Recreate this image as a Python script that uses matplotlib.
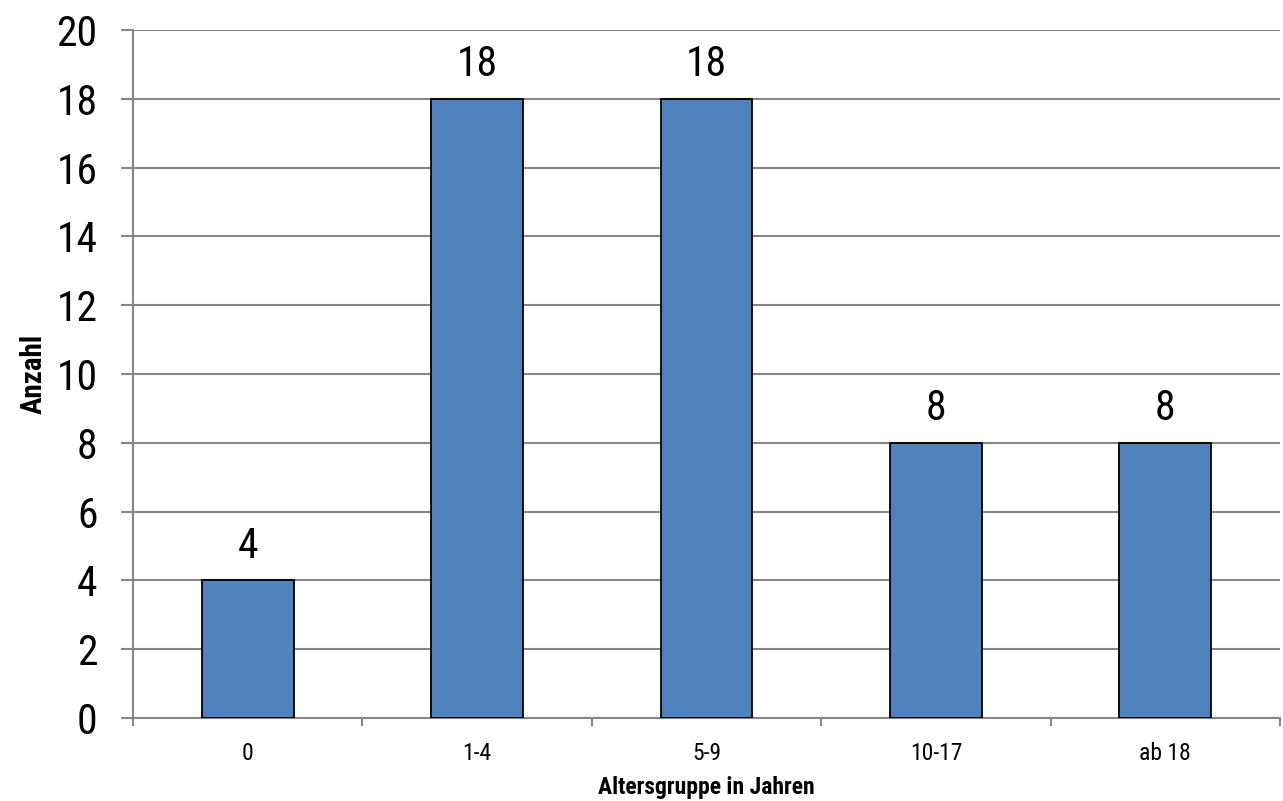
import matplotlib.pyplot as plt
import numpy as np

# Altersverteilung
gruppen = ["0", "1-4", "5-9", "10-17", "ab 18"]
anzahl = [4, 18, 18, 8, 8]
y_ticks = list(range(0, 21, 2))

plt.rcParams["font.family"] = ["Roboto Condensed", "Archivo Narrow", "Liberation Sans", "DejaVu Sans"]

grid_col = "#868686"
bar_col = "#4F81BD"

fig = plt.figure(figsize=(12.83, 8.01), dpi=100)
ax = fig.add_axes([0.1037, 0.1036, 0.894, 0.859])

x = np.arange(len(gruppen))
ax.bar(x, anzahl, width=0.4, color=bar_col, edgecolor="black",
       linewidth=1.3, zorder=3)

# Wert über jedem Balken
for xi, v in zip(x, anzahl):
    ax.annotate(str(v), (xi, v), xytext=(0, 10), textcoords="offset points",
                ha="center", va="bottom", fontsize=30)

ax.set_xlim(-0.5, len(gruppen) - 0.5)
ax.set_ylim(0, 20)
ax.set_yticks(y_ticks)
ax.set_yticklabels([str(t) for t in y_ticks], fontsize=30)
ax.yaxis.grid(True, color=grid_col, linewidth=1.5, zorder=0)
ax.tick_params(axis="y", length=8.5, width=1.5, color=grid_col, pad=17)

ax.set_xticks(x)
ax.set_xticklabels(gruppen, fontsize=17)
ax.set_xticks(np.arange(-0.5, len(gruppen)), minor=True)
ax.tick_params(axis="x", which="major", length=0, pad=17)
ax.tick_params(axis="x", which="minor", length=6, width=1.5, color=grid_col)

for s in ["top", "right"]:
    ax.spines[s].set_visible(False)
for s in ["left", "bottom"]:
    ax.spines[s].set_color(grid_col)
    ax.spines[s].set_linewidth(1.5)

ax.set_ylabel("Anzahl", fontsize=21, fontweight="bold", labelpad=6)
ax.set_xlabel("Altersgruppe in Jahren", fontsize=17, fontweight="bold", labelpad=8)

fig.savefig("out.png", dpi=100)
